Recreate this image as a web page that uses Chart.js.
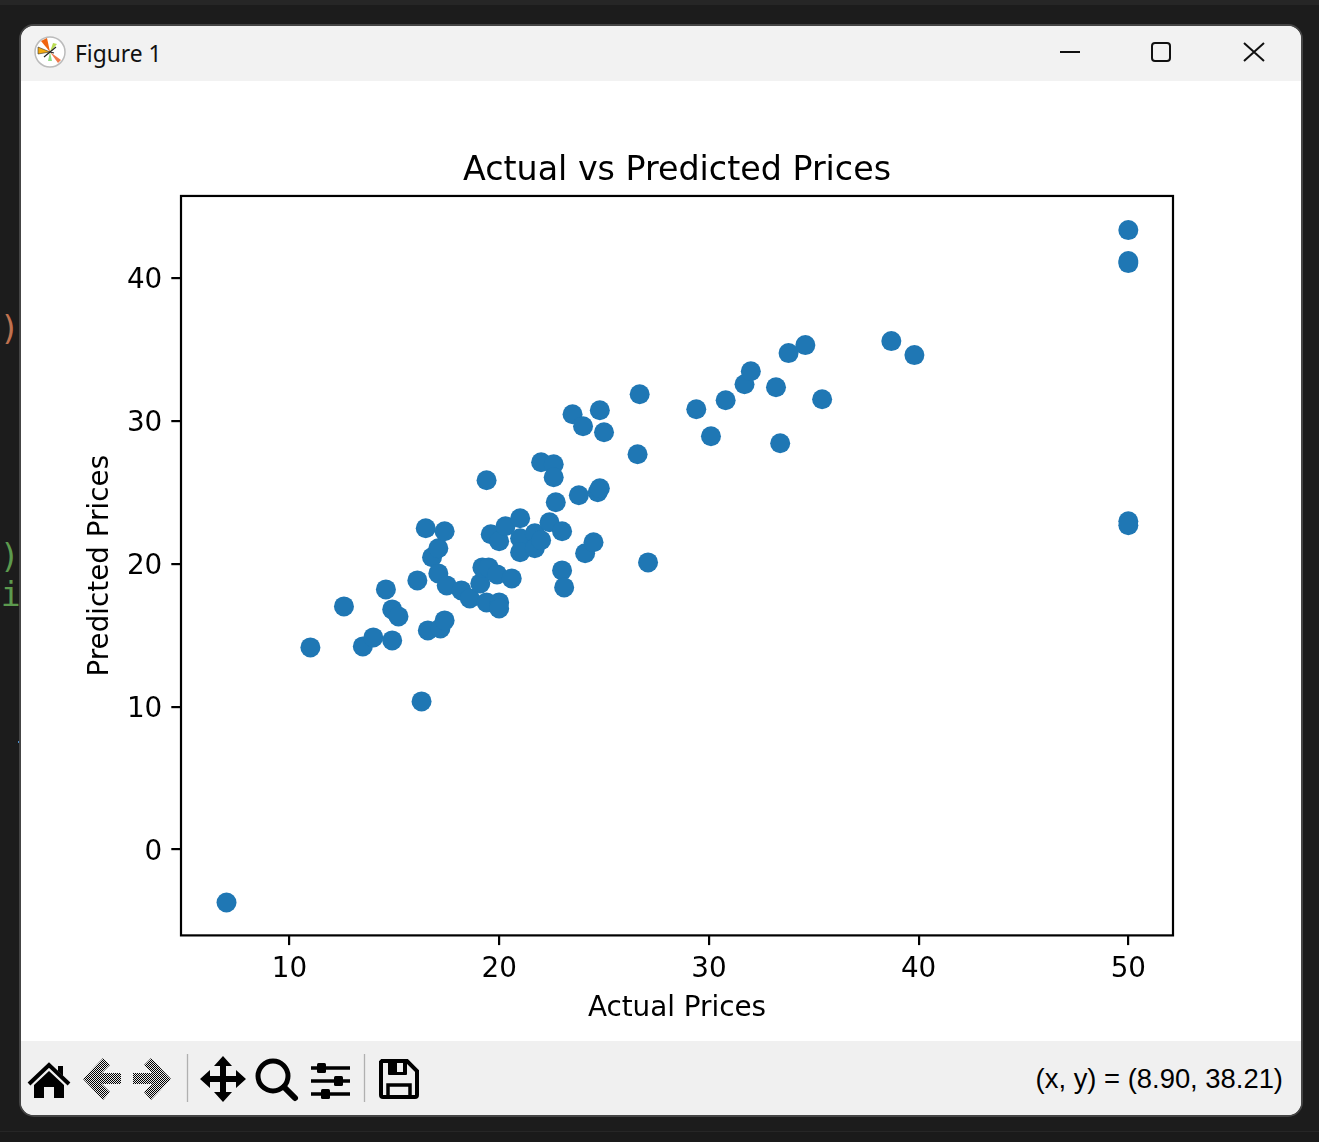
<!DOCTYPE html>
<html>
<head>
<meta charset="utf-8">
<title>Figure 1</title>
<script src="https://cdn.jsdelivr.net/npm/chart.js/dist/chart.umd.min.js"></script>
<style>
  html, body { margin: 0; padding: 0; width: 1319px; height: 1142px; overflow: hidden; background: #1c1c1c; }
  #topline { position: absolute; left: 0; top: 0; width: 1319px; height: 5px; background: #262626; }
  #botline { position: absolute; left: 0; top: 1131px; width: 1319px; height: 11px; background: #1a1a1a; border-top: 1px solid #262626; }
  #window { position: absolute; left: 19px; top: 24px; width: 1280px; height: 1089px; background: #fff; border: 2px solid #454545; border-radius: 15px; overflow: hidden; }
  #titlebar { position: absolute; left: 0; top: 0; width: 1280px; height: 55px; background: #f2f2f2; }
  #figname { position: absolute; left: 54px; top: 12px; font: 22.800px "Noto Sans", sans-serif; color: #111; }
  #toolbar { position: absolute; left: 0; top: 1015px; width: 1280px; height: 74px; background: #f0f0f0; }
  #status { position: absolute; right: 18px; top: 22px; font: 27.400px "Liberation Sans", sans-serif; color: #000; white-space: nowrap; }
  #plot { position: absolute; left: 0; top: 55px; width: 1280px; height: 960px; }
  #overlay { position: absolute; left: 0; top: 0; pointer-events: none; }
  .code { position: absolute; font: 33px "DejaVu Sans Mono", monospace; white-space: nowrap; }
</style>
</head>
<body>
<div id="topline"></div>
<div id="botline"></div>
<div class="code" style="left:-20px; top:309px; color:#c0724f;">.)</div>
<div class="code" style="left:-20px; top:537px; color:#5c9a4e;">r)</div>
<div class="code" style="left:-19px; top:575px; color:#5c9a4e;">ri</div>
<div style="position:absolute; left:18px; top:741px; width:3px; height:2px; background:#4a8fd0;"></div>
<div id="window">
  <div id="titlebar"><div id="figname">Figure 1</div></div>
  <div id="plot"><canvas id="myChart" width="1280" height="960" style="width:1280px; height:960px;"></canvas></div>
  <div id="toolbar"><div id="status">(x, y) = (8.90, 38.21)</div></div>
</div>
<svg id="overlay" width="1319" height="1142" viewBox="0 0 1319 1142">
  <defs>
    <pattern id="dither" width="2" height="2" patternUnits="userSpaceOnUse">
      <rect width="2" height="2" fill="#e8e8e8"/>
      <rect width="1" height="1" fill="#000"/>
      <rect x="1" y="1" width="1" height="1" fill="#000"/>
    </pattern>
  </defs>
  <!-- title bar icon -->
  <circle cx="50" cy="52" r="15" fill="#fff" stroke="#bbb" stroke-width="1.500"/>
  <path d="M50 52 L41 41 L47 38 Z" fill="#f0640f"/>
  <path d="M50 52 L38 47 L38 54 Z" fill="#f4a90f" stroke="#333" stroke-width=".6"/>
  <path d="M50 52 L61 60 L58 63 Z" fill="#f0784a"/>
  <path d="M50 52 L48 61 L52 61 Z" fill="#8fdc80"/>
  <path d="M50 52 L53 43 L57 44 Z" fill="#b9dc50"/>
  <path d="M44 57 L56 47 M50 52 L54 53" stroke="#222" stroke-width="1.200"/>
  <!-- window buttons -->
  <path d="M1060 52 H1080" stroke="#111" stroke-width="2"/>
  <rect x="1152" y="43" width="18" height="18" rx="3" fill="none" stroke="#111" stroke-width="2"/>
  <path d="M1244 43 L1264 61 M1264 43 L1244 61" stroke="#111" stroke-width="2"/>
  <!-- toolbar: home -->
  <path d="M29 1084 L49 1065 L69 1084" fill="none" stroke="#000" stroke-width="4"/>
  <path d="M58 1066 H63 V1076 L58 1071 Z" fill="#000"/>
  <path d="M34 1085 L49 1071 L64 1085 V1098 H54 V1087 H44 V1098 H34 Z" fill="#000"/>
  <!-- back / forward, disabled -->
  <path d="M83 1079 L103 1058 L110 1065 L102 1073 H121 V1084 H102 L110 1092 L103 1100 Z" fill="url(#dither)"/>
  <path d="M171 1079 L151 1058 L144 1065 L152 1073 H133 V1084 H152 L144 1092 L151 1100 Z" fill="url(#dither)"/>
  <path d="M187.500 1054 V1102 M364.500 1054 V1102" stroke="#b0b0b0" stroke-width="1.300"/>
  <!-- pan -->
  <path d="M223 1056 L232 1066 H226 V1076 H236 V1070 L246 1079 L236 1088 V1082 H226 V1092 H232 L223 1102 L214 1092 H220 V1082 H210 V1088 L200 1079 L210 1070 V1076 H220 V1066 H214 Z" fill="#000"/>
  <!-- zoom -->
  <circle cx="273" cy="1076" r="15" fill="none" stroke="#000" stroke-width="5"/>
  <path d="M284 1087 L295 1098" stroke="#000" stroke-width="6" stroke-linecap="round"/>
  <!-- subplots -->
  <path d="M311 1068 H350 M311 1081 H350 M311 1094 H350" stroke="#000" stroke-width="3.500"/>
  <rect x="317" y="1063" width="9" height="10" rx="1.500" fill="#000"/>
  <rect x="334" y="1076" width="9" height="10" rx="1.500" fill="#000"/>
  <rect x="321" y="1089" width="9" height="10" rx="1.500" fill="#000"/>
  <!-- save -->
  <path d="M382 1061 H407 L417 1071 V1095 Q417 1097 415 1097 H383 Q381 1097 381 1095 V1062 Z" fill="none" stroke="#000" stroke-width="4"/>
  <rect x="388" y="1061" width="19" height="14" rx="1" fill="#000"/>
  <rect x="397" y="1063" width="6" height="9" fill="#f0f0f0"/>
  <path d="M388 1097 V1085 H410 V1097" fill="none" stroke="#000" stroke-width="3.500"/>
</svg>
<script>
// values
const actualPrices = [50.0, 50.0, 50.0, 50.0, 50.0, 7.0, 11.0, 12.6, 13.5, 14.0, 14.6, 14.9, 14.9, 15.2, 16.1, 16.3, 16.5, 16.6, 16.8, 17.1, 17.1, 17.2, 17.4, 17.4, 17.5, 18.2, 18.6, 19.1, 19.2, 19.4, 19.4, 19.5, 19.6, 19.9, 20.0, 20.0, 20.0, 20.3, 20.6, 21.0, 21.0, 21.0, 21.7, 21.7, 22.0, 22.0, 22.4, 22.6, 22.6, 22.7, 23.0, 23.0, 23.1, 23.8, 24.1, 24.5, 24.7, 24.8, 23.5, 24.0, 24.8, 25.0, 26.6, 26.7, 27.1, 29.4, 30.1, 30.8, 31.7, 32.0, 33.2, 33.4, 33.8, 34.6, 35.4, 38.7, 39.8];
const predictedPrices = [43.36, 41.19, 41.05, 22.98, 22.70, -3.71, 14.15, 17.02, 14.22, 14.85, 18.21, 16.81, 14.64, 16.32, 18.84, 10.37, 22.49, 15.34, 20.46, 21.09, 19.33, 15.48, 22.28, 16.04, 18.49, 18.14, 17.58, 18.63, 19.75, 25.85, 17.30, 19.75, 22.07, 19.26, 21.58, 17.30, 16.88, 22.63, 18.98, 23.19, 21.79, 20.81, 22.14, 21.09, 21.65, 27.11, 22.91, 26.97, 26.06, 24.31, 22.28, 19.54, 18.35, 24.80, 20.74, 21.51, 25.01, 25.29, 30.47, 29.63, 30.75, 29.21, 27.67, 31.87, 20.10, 30.82, 28.93, 31.45, 32.57, 33.48, 32.36, 28.44, 34.75, 35.31, 31.52, 35.59, 34.61];
const xTicks = [10, 20, 30, 40, 50];
const yTicks = [0, 10, 20, 30, 40];

const fontFamily = '"DejaVu Sans", sans-serif';

// the frame on all four sides, like matplotlib's spines
const frame = {
  id: 'frame',
  afterDraw(chart) {
    const { ctx, chartArea } = chart;
    ctx.save();
    ctx.strokeStyle = '#000';
    ctx.lineWidth = 2.2;
    ctx.strokeRect(chartArea.left, chartArea.top, chartArea.right - chartArea.left, chartArea.bottom - chartArea.top);
    ctx.restore();
  }
};

const myChart = new Chart(document.getElementById('myChart'), {
  type: 'scatter',
  data: {
    datasets: [{
      data: actualPrices.map((x, i) => ({ x: x, y: predictedPrices[i] })),
      backgroundColor: '#1f77b4',
      borderColor: '#1f77b4',
      pointRadius: 10,
      pointBorderWidth: 0
    }]
  },
  options: {
    responsive: false,
    animation: false,
    devicePixelRatio: 1,
    layout: { padding: { top: 70, right: 128, bottom: 0, left: 0 } },
    plugins: {
      legend: { display: false },
      tooltip: { enabled: false },
      title: {
        display: true,
        text: 'Actual vs Predicted Prices',
        color: '#000',
        fullSize: false,
        font: { family: fontFamily, size: 33.3, weight: 'normal' },
        padding: { top: 0, bottom: 5 }
      }
    },
    scales: {
      x: {
        type: 'linear',
        min: 4.83,
        max: 52.13,
        afterFit(axis) { axis.height = 105.6; },
        afterBuildTicks(axis) { axis.ticks = xTicks.map(v => ({ value: v })); },
        border: { display: false },
        grid: { drawOnChartArea: false, drawTicks: true, tickLength: 9.7, color: '#000', lineWidth: 2.2 },
        ticks: { color: '#000', font: { family: fontFamily, size: 27.8 }, padding: 8, maxRotation: 0, autoSkip: false },
        title: { display: true, text: 'Actual Prices', color: '#000', font: { family: fontFamily, size: 27.8 }, padding: { top: 0, bottom: 16 } }
      },
      y: {
        type: 'linear',
        min: -6.01,
        max: 45.75,
        afterFit(axis) { axis.width = 160; },
        afterBuildTicks(axis) { axis.ticks = yTicks.map(v => ({ value: v })); },
        border: { display: false },
        grid: { drawOnChartArea: false, drawTicks: true, tickLength: 9.7, color: '#000', lineWidth: 2.2 },
        ticks: { color: '#000', font: { family: fontFamily, size: 27.8 }, padding: 9, labelOffset: 3, autoSkip: false },
        title: { display: true, text: 'Predicted Prices', color: '#000', font: { family: fontFamily, size: 27.8 }, padding: { top: 63, bottom: 0 } }
      }
    }
  },
  plugins: [frame]
});
</script>
</body>
</html>
